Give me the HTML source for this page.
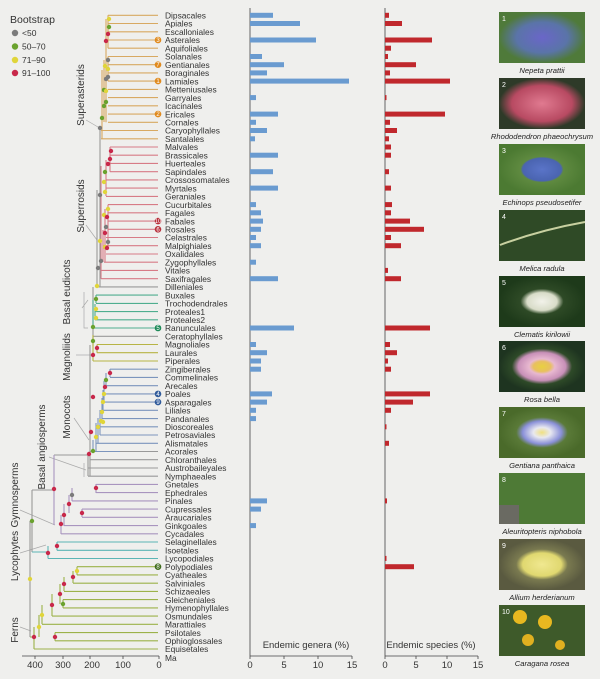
<!DOCTYPE html>
<html><head><meta charset="utf-8"><style>
body{margin:0;background:#efefed;}
svg{display:block;font-family:"Liberation Sans",sans-serif;}
.l text{font-size:8.4px;fill:#333;}
.ax text{font-size:9.5px;fill:#333;text-anchor:middle;}
.cap{font-size:7.6px;font-style:italic;fill:#222;text-anchor:middle;}
.cl{font-size:10px;fill:#333;text-anchor:middle;}
</style></head><body>
<svg width="600" height="679" viewBox="0 0 600 679" xmlns="http://www.w3.org/2000/svg">
<rect width="600" height="679" fill="#efefed"/>
<!-- legend -->
<text x="10" y="23" font-size="10.5" fill="#333">Bootstrap</text>
<circle cx="15" cy="33" r="3.2" fill="#7b7b7b"/><text x="22" y="36" font-size="8.5" fill="#333">&lt;50</text>
<circle cx="15" cy="46.5" r="3.2" fill="#6aa22e"/><text x="22" y="49.5" font-size="8.5" fill="#333">50–70</text>
<circle cx="15" cy="60" r="3.2" fill="#e0d53a"/><text x="22" y="63" font-size="8.5" fill="#333">71–90</text>
<circle cx="15" cy="73" r="3.2" fill="#c8284a"/><text x="22" y="76" font-size="8.5" fill="#333">91–100</text>

<!-- clade labels -->
<g class="cl">
<text transform="translate(84,95) rotate(-90)">Superasterids</text>
<text transform="translate(84,206) rotate(-90)">Superrosids</text>
<text transform="translate(70,292) rotate(-90)">Basal eudicots</text>
<text transform="translate(70,357) rotate(-90)">Magnoliids</text>
<text transform="translate(70,417) rotate(-90)">Monocots</text>
<text transform="translate(45,447) rotate(-90)">Basal angiosperms</text>
<text transform="translate(18,495) rotate(-90)">Gymnosperms</text>
<text transform="translate(18,556) rotate(-90)">Lycophytes</text>
<text transform="translate(18,630) rotate(-90)">Ferns</text>
</g>
<g stroke="#aaa" stroke-width="0.7" fill="none">
<path d="M86 120 L98 127"/><path d="M86 225 L97 240"/><path d="M82 308 L88 300 M84 292 L84 328 L88 328"/>
<path d="M76 355 L91 355"/><path d="M74 418 L89 440"/><path d="M49 457 L86 470 M84 463 L84 477"/>
<path d="M20 510 L55 525"/><path d="M20 553 L46 545"/><path d="M20 627 L31 631"/>
</g>

<!-- tree -->
<g fill="none" stroke-width="1.1">
<g stroke="#d8a962">
<path d="M108 15.3H158M108 23.5H158M108 31.8H158M108 40H158M108 48.2H158M108 56.5H158M108 64.7H158M108 72.9H158M108 81.1H158M108 89.4H158M108 97.6H158M108 105.8H158M108 114.1H158M108 122.3H158M101 130.5H158M101 138.8H158"/>
<path d="M108 15.3V48.2M106 19V122.3M108 56.5V81.1M104 60V122M102 70V139"/>
</g>
<g stroke="#d77b86">
<path d="M110 147H158M110 155.2H158M110 163.4H158M110 171.7H158M106 179.9H158M106 188.1H158M106 196.4H158M108 204.6H158M108 212.8H158M108 221.1H158M108 229.3H158M106 237.5H158M106 245.7H158M106 254H158M104 262.2H158M101 270.4H158M101 278.7H158"/>
<path d="M110 147V171.7M106 160V196M108 204.6V245.7M105 209V262M103 230V262M101 166V278.7"/>
</g>
<g stroke="#999"><path d="M97 286.9H158M93 336.3H158M90 451.5H158M90 459.7H158M88 468H158M88 476.2H158M100 128V287M97 190V287M93 287V346M90 345V476M88 455V476M54 455H90"/></g>
<g stroke="#4fae8f"><path d="M96 295.1H158M96 303.4H158M95 311.6H158M95 319.8H158M93 328H158M96 295V303M95 304V320M93 300V328"/></g>
<g stroke="#b7b445"><path d="M97 344.5H158M97 352.7H158M93 361H158M97 344.5V352.7M93 335V361"/></g>
<g stroke="#7c95bd"><path d="M110 369.2H158M110 377.4H158M106 385.7H158M104 393.9H158M104 402.1H158M103 410.3H158M102 418.6H158M100 426.8H158M100 435H158M96 443.3H158M93 451.5H120M110 369V377M106 373V386M104 381V402M103 390V410M102 398V419M100 410V435M98 418V443M96 423V451M93 440V452"/></g>
<g stroke="#a995bf"><path d="M96 484.4H158M96 492.6H158M72 500.9H158M82 509.1H158M82 517.3H158M64 525.6H158M61 533.8H158M96 484V493M72 488V501M69 495V513M82 509V517M64 504V526M61 515V534M54 455V525"/></g>
<g stroke="#999"><path d="M32 490H54M32 490V552M30 521H32M30 521V637"/></g>
<g stroke="#5bb5b5"><path d="M57 542H158M57 550.3H158M48 558.5H158M57 542V550.3M48 546V558.5M32 552H48"/></g>
<g stroke="#9cb24a"><path d="M77 566.7H158M77 574.9H158M73 583.2H158M64 591.4H158M63 599.6H158M63 607.9H158M52 616.1H158M42 624.3H158M55 632.6H158M55 640.8H158M34 649H158M77 566.7V574.9M73 571V583M64 577V591M63 599.6V607.9M60 584V604M52 594V616M42 605V624M55 632.6V640.8M39 615V637M34 627V649M30 637H34"/></g>
</g>
<!-- nodes -->
<g>
<circle cx="109" cy="19" r="2.2" fill="#e0d53a"/><circle cx="109" cy="27" r="2.2" fill="#6aa22e"/><circle cx="108" cy="34" r="2.2" fill="#c8284a"/><circle cx="106" cy="41" r="2.2" fill="#c8284a"/>
<circle cx="108" cy="60" r="2.2" fill="#7b7b7b"/><circle cx="105" cy="66" r="2.2" fill="#e0d53a"/><circle cx="108" cy="69" r="2.2" fill="#e0d53a"/><circle cx="106" cy="79" r="2.2" fill="#7b7b7b"/><circle cx="108" cy="77" r="2.2" fill="#7b7b7b"/>
<circle cx="104" cy="90" r="2.2" fill="#6aa22e"/><circle cx="106" cy="91" r="2.2" fill="#e0d53a"/><circle cx="106" cy="102" r="2.2" fill="#6aa22e"/><circle cx="104" cy="106" r="2.2" fill="#6aa22e"/><circle cx="102" cy="118" r="2.2" fill="#6aa22e"/><circle cx="100" cy="128" r="2.2" fill="#7b7b7b"/>
<circle cx="111" cy="151" r="2.2" fill="#c8284a"/><circle cx="110" cy="159" r="2.2" fill="#c8284a"/><circle cx="108" cy="164" r="2.2" fill="#c8284a"/><circle cx="105" cy="172" r="2.2" fill="#6aa22e"/><circle cx="104" cy="182" r="2.2" fill="#e0d53a"/><circle cx="105" cy="192" r="2.2" fill="#e0d53a"/><circle cx="100" cy="195" r="2.2" fill="#7b7b7b"/>
<circle cx="108" cy="209" r="2.2" fill="#e0d53a"/><circle cx="104" cy="215" r="2.2" fill="#e0d53a"/><circle cx="107" cy="217" r="2.2" fill="#c8284a"/><circle cx="106" cy="227" r="2.2" fill="#7b7b7b"/><circle cx="105" cy="233" r="2.2" fill="#c8284a"/><circle cx="100" cy="241" r="2.2" fill="#e0d53a"/><circle cx="108" cy="242" r="2.2" fill="#7b7b7b"/><circle cx="105" cy="247" r="2.2" fill="#e0d53a"/><circle cx="107" cy="248" r="2.2" fill="#c8284a"/><circle cx="101" cy="261" r="2.2" fill="#7b7b7b"/><circle cx="98" cy="268" r="2.2" fill="#7b7b7b"/><circle cx="97" cy="286" r="2.2" fill="#e0d53a"/>
<circle cx="96" cy="299" r="2.2" fill="#6aa22e"/><circle cx="96" cy="309" r="2.2" fill="#e0d53a"/><circle cx="96" cy="318" r="2.2" fill="#e0d53a"/><circle cx="93" cy="327" r="2.2" fill="#6aa22e"/><circle cx="93" cy="341" r="2.2" fill="#6aa22e"/>
<circle cx="97" cy="348" r="2.2" fill="#c8284a"/><circle cx="93" cy="355" r="2.2" fill="#c8284a"/><circle cx="110" cy="373" r="2.2" fill="#c8284a"/><circle cx="106" cy="380" r="2.2" fill="#6aa22e"/><circle cx="105" cy="387" r="2.2" fill="#c8284a"/><circle cx="104" cy="394" r="2.2" fill="#e0d53a"/><circle cx="103" cy="402" r="2.2" fill="#e0d53a"/><circle cx="102" cy="412" r="2.2" fill="#e0d53a"/><circle cx="101" cy="421" r="2.2" fill="#e0d53a"/><circle cx="103" cy="422" r="2.2" fill="#e0d53a"/><circle cx="98" cy="427" r="2.2" fill="#e0d53a"/><circle cx="96" cy="437" r="2.2" fill="#e0d53a"/><circle cx="93" cy="397" r="2.2" fill="#c8284a"/><circle cx="91" cy="432" r="2.2" fill="#c8284a"/><circle cx="93" cy="451" r="2.2" fill="#6aa22e"/><circle cx="89" cy="454" r="2.2" fill="#c8284a"/>
<circle cx="54" cy="489" r="2.2" fill="#c8284a"/><circle cx="96" cy="488" r="2.2" fill="#c8284a"/><circle cx="72" cy="495" r="2.2" fill="#7b7b7b"/><circle cx="69" cy="504" r="2.2" fill="#c8284a"/><circle cx="82" cy="513" r="2.2" fill="#c8284a"/><circle cx="64" cy="515" r="2.2" fill="#c8284a"/><circle cx="61" cy="524" r="2.2" fill="#c8284a"/>
<circle cx="32" cy="521" r="2.2" fill="#6aa22e"/><circle cx="57" cy="546" r="2.2" fill="#c8284a"/><circle cx="48" cy="553" r="2.2" fill="#c8284a"/>
<circle cx="30" cy="579" r="2.2" fill="#e0d53a"/><circle cx="77" cy="571" r="2.2" fill="#e0d53a"/><circle cx="73" cy="577" r="2.2" fill="#c8284a"/><circle cx="64" cy="584" r="2.2" fill="#c8284a"/><circle cx="60" cy="594" r="2.2" fill="#c8284a"/><circle cx="63" cy="604" r="2.2" fill="#6aa22e"/><circle cx="52" cy="605" r="2.2" fill="#c8284a"/><circle cx="42" cy="615" r="2.2" fill="#e0d53a"/><circle cx="39" cy="627" r="2.2" fill="#e0d53a"/><circle cx="55" cy="637" r="2.2" fill="#c8284a"/><circle cx="34" cy="637" r="2.2" fill="#c8284a"/>
</g>
<g font-size="6" fill="#fff" text-anchor="middle">
<circle cx="158" cy="40" r="3.3" fill="#e08a1e"/><text x="158" y="42">3</text>
<circle cx="158" cy="64.7" r="3.3" fill="#e08a1e"/><text x="158" y="66.7">7</text>
<circle cx="158" cy="81.1" r="3.3" fill="#e08a1e"/><text x="158" y="83.1">1</text>
<circle cx="158" cy="114.1" r="3.3" fill="#e08a1e"/><text x="158" y="116.1">2</text>
<circle cx="158" cy="221.1" r="3.3" fill="#b8313c"/><text x="158" y="223.1">10</text>
<circle cx="158" cy="229.3" r="3.3" fill="#b8313c"/><text x="158" y="231.3">6</text>
<circle cx="158" cy="328" r="3.3" fill="#1e8a58"/><text x="158" y="330">5</text>
<circle cx="158" cy="393.9" r="3.3" fill="#2f5a9a"/><text x="158" y="395.9">4</text>
<circle cx="158" cy="402.1" r="3.3" fill="#2f5a9a"/><text x="158" y="404.1">9</text>
<circle cx="158" cy="566.7" r="3.3" fill="#3c6a1a"/><text x="158" y="568.7">8</text>
</g>

<g class="l">
<text x="165" y="18.5">Dipsacales</text><text x="165" y="26.7">Apiales</text><text x="165" y="35">Escalloniales</text><text x="165" y="43.2">Asterales</text><text x="165" y="51.4">Aquifoliales</text><text x="165" y="59.7">Solanales</text><text x="165" y="67.9">Gentianales</text><text x="165" y="76.1">Boraginales</text><text x="165" y="84.3">Lamiales</text><text x="165" y="92.6">Metteniusales</text><text x="165" y="100.8">Garryales</text><text x="165" y="109">Icacinales</text><text x="165" y="117.3">Ericales</text><text x="165" y="125.5">Cornales</text><text x="165" y="133.7">Caryophyllales</text><text x="165" y="142">Santalales</text>
<text x="165" y="150.2">Malvales</text><text x="165" y="158.4">Brassicales</text><text x="165" y="166.6">Huerteales</text><text x="165" y="174.9">Sapindales</text><text x="165" y="183.1">Crossosomatales</text><text x="165" y="191.3">Myrtales</text><text x="165" y="199.6">Geraniales</text><text x="165" y="207.8">Cucurbitales</text><text x="165" y="216">Fagales</text><text x="165" y="224.3">Fabales</text><text x="165" y="232.5">Rosales</text><text x="165" y="240.7">Celastrales</text><text x="165" y="248.9">Malpighiales</text><text x="165" y="257.2">Oxalidales</text><text x="165" y="265.4">Zygophyllales</text><text x="165" y="273.6">Vitales</text><text x="165" y="281.9">Saxifragales</text><text x="165" y="290.1">Dilleniales</text>
<text x="165" y="298.3">Buxales</text><text x="165" y="306.6">Trochodendrales</text><text x="165" y="314.8">Proteales1</text><text x="165" y="323">Proteales2</text><text x="165" y="331.2">Ranunculales</text><text x="165" y="339.5">Ceratophyllales</text><text x="165" y="347.7">Magnoliales</text><text x="165" y="355.9">Laurales</text><text x="165" y="364.2">Piperales</text><text x="165" y="372.4">Zingiberales</text><text x="165" y="380.6">Commelinales</text><text x="165" y="388.9">Arecales</text><text x="165" y="397.1">Poales</text><text x="165" y="405.3">Asparagales</text><text x="165" y="413.5">Liliales</text><text x="165" y="421.8">Pandanales</text><text x="165" y="430">Dioscoreales</text><text x="165" y="438.2">Petrosaviales</text><text x="165" y="446.5">Alismatales</text><text x="165" y="454.7">Acorales</text><text x="165" y="462.9">Chloranthales</text><text x="165" y="471.2">Austrobaileyales</text><text x="165" y="479.4">Nymphaeales</text>
<text x="165" y="487.6">Gnetales</text><text x="165" y="495.8">Ephedrales</text><text x="165" y="504.1">Pinales</text><text x="165" y="512.3">Cupressales</text><text x="165" y="520.5">Araucariales</text><text x="165" y="528.8">Ginkgoales</text><text x="165" y="537">Cycadales</text><text x="165" y="545.2">Selaginellales</text><text x="165" y="553.5">Isoetales</text><text x="165" y="561.7">Lycopodiales</text><text x="165" y="569.9">Polypodiales</text><text x="165" y="578.1">Cyatheales</text><text x="165" y="586.4">Salviniales</text><text x="165" y="594.6">Schizaeales</text><text x="165" y="602.8">Gleicheniales</text><text x="165" y="611.1">Hymenophyllales</text><text x="165" y="619.3">Osmundales</text><text x="165" y="627.5">Marattiales</text><text x="165" y="635.8">Psilotales</text><text x="165" y="644">Ophioglossales</text><text x="165" y="652.2">Equisetales</text><text x="165" y="661">Ma</text>
</g>

<g stroke="#444" stroke-width="0.8" fill="none">
<path d="M22 656H159M35 656v3M63 656v3M90 656v3M123 656v3M159 656v3"/>
<path d="M250 8V656H352M250 656v3M284 656v3M318 656v3M352 656v3"/>
<path d="M385 8V656H478M385 656v3M416 656v3M447 656v3M478 656v3"/>
</g>
<g class="ax">
<text x="35" y="668">400</text><text x="63" y="668">300</text><text x="92" y="668">200</text><text x="123" y="668">100</text><text x="159" y="668">0</text>
<text x="250" y="668">0</text><text x="284" y="668">5</text><text x="318" y="668">10</text><text x="352" y="668">15</text>
<text x="385" y="668">0</text><text x="416" y="668">5</text><text x="447" y="668">10</text><text x="478" y="668">15</text>
<text x="306" y="648" font-size="8.4">Endemic genera (%)</text>
<text x="431" y="648" font-size="8.4">Endemic species (%)</text>
</g>

<g fill="#6a9bd0">
<rect x="250" y="12.8" width="23" height="5"/><rect x="250" y="21" width="50" height="5"/><rect x="250" y="37.5" width="66" height="5"/><rect x="250" y="54" width="12" height="5"/><rect x="250" y="62.2" width="34" height="5"/><rect x="250" y="70.4" width="17" height="5"/><rect x="250" y="78.6" width="99" height="5"/><rect x="250" y="95.1" width="6" height="5"/><rect x="250" y="111.6" width="28" height="5"/><rect x="250" y="119.8" width="6" height="5"/><rect x="250" y="128" width="17" height="5"/><rect x="250" y="136.3" width="5" height="5"/>
<rect x="250" y="152.7" width="28" height="5"/><rect x="250" y="169.2" width="23" height="5"/><rect x="250" y="185.6" width="28" height="5"/><rect x="250" y="202.1" width="6" height="5"/><rect x="250" y="210.3" width="11" height="5"/><rect x="250" y="218.6" width="13" height="5"/><rect x="250" y="226.8" width="11" height="5"/><rect x="250" y="235" width="6" height="5"/><rect x="250" y="243.2" width="11" height="5"/><rect x="250" y="259.7" width="6" height="5"/><rect x="250" y="276.2" width="28" height="5"/>
<rect x="250" y="325.5" width="44" height="5"/><rect x="250" y="342" width="6" height="5"/><rect x="250" y="350.2" width="17" height="5"/><rect x="250" y="358.5" width="11" height="5"/><rect x="250" y="366.7" width="11" height="5"/><rect x="250" y="391.4" width="22" height="5"/><rect x="250" y="399.6" width="17" height="5"/><rect x="250" y="407.8" width="6" height="5"/><rect x="250" y="416.1" width="6" height="5"/>
<rect x="250" y="498.4" width="17" height="5"/><rect x="250" y="506.6" width="11" height="5"/><rect x="250" y="523.1" width="6" height="5"/>
</g>
<g fill="#c0282d">
<rect x="385" y="12.8" width="4" height="5"/><rect x="385" y="21" width="17" height="5"/><rect x="385" y="37.5" width="47" height="5"/><rect x="385" y="45.7" width="6" height="5"/><rect x="385" y="54" width="3" height="5"/><rect x="385" y="62.2" width="31" height="5"/><rect x="385" y="70.4" width="5" height="5"/><rect x="385" y="78.6" width="65" height="5"/><rect x="385" y="95.1" width="1.5" height="5"/><rect x="385" y="111.6" width="60" height="5"/><rect x="385" y="119.8" width="5" height="5"/><rect x="385" y="128" width="12" height="5"/><rect x="385" y="136.3" width="4" height="5"/>
<rect x="385" y="144.5" width="6" height="5"/><rect x="385" y="152.7" width="6" height="5"/><rect x="385" y="169.2" width="4" height="5"/><rect x="385" y="185.6" width="6" height="5"/><rect x="385" y="202.1" width="7" height="5"/><rect x="385" y="210.3" width="6" height="5"/><rect x="385" y="218.6" width="25" height="5"/><rect x="385" y="226.8" width="39" height="5"/><rect x="385" y="235" width="6" height="5"/><rect x="385" y="243.2" width="16" height="5"/><rect x="385" y="267.9" width="3" height="5"/><rect x="385" y="276.2" width="16" height="5"/>
<rect x="385" y="325.5" width="45" height="5"/><rect x="385" y="342" width="5" height="5"/><rect x="385" y="350.2" width="12" height="5"/><rect x="385" y="358.5" width="3" height="5"/><rect x="385" y="366.7" width="6" height="5"/><rect x="385" y="391.4" width="45" height="5"/><rect x="385" y="399.6" width="28" height="5"/><rect x="385" y="407.8" width="6" height="5"/><rect x="385" y="424.3" width="1.5" height="5"/><rect x="385" y="440.8" width="4" height="5"/>
<rect x="385" y="498.4" width="2" height="5"/><rect x="385" y="555.9" width="1.5" height="5"/><rect x="385" y="564.2" width="29" height="5"/>
</g>

<defs>
<radialGradient id="g1"><stop offset="0" stop-color="#6a66c8"/><stop offset="0.6" stop-color="#5a74a8"/><stop offset="1" stop-color="#4f7a3a"/></radialGradient>
<radialGradient id="g2"><stop offset="0" stop-color="#e07a90"/><stop offset="0.7" stop-color="#b84a62"/><stop offset="1" stop-color="#2e3a28"/></radialGradient>
<radialGradient id="g3"><stop offset="0" stop-color="#5a74c8"/><stop offset="0.45" stop-color="#4a64b0"/><stop offset="0.5" stop-color="#5f8a40"/><stop offset="1" stop-color="#4c7a32"/></radialGradient>
<radialGradient id="g5"><stop offset="0" stop-color="#f2f2ea"/><stop offset="0.35" stop-color="#d8dcc8"/><stop offset="0.5" stop-color="#2e4a26"/><stop offset="1" stop-color="#1e3a1a"/></radialGradient>
<radialGradient id="g6"><stop offset="0" stop-color="#e8d040"/><stop offset="0.2" stop-color="#e8c060"/><stop offset="0.3" stop-color="#e8b8d0"/><stop offset="0.55" stop-color="#c890b8"/><stop offset="0.7" stop-color="#2e4a28"/><stop offset="1" stop-color="#1e3420"/></radialGradient>
<radialGradient id="g7"><stop offset="0" stop-color="#f0e080"/><stop offset="0.2" stop-color="#e8e8f0"/><stop offset="0.45" stop-color="#8a90d8"/><stop offset="0.6" stop-color="#5a7a38"/><stop offset="1" stop-color="#4a6a2a"/></radialGradient>
<radialGradient id="g9"><stop offset="0" stop-color="#f0e890"/><stop offset="0.45" stop-color="#e0d870"/><stop offset="0.6" stop-color="#7a7a50"/><stop offset="1" stop-color="#5a5a40"/></radialGradient>
</defs>
<rect x="499" y="12" width="86" height="51" fill="url(#g1)"/>
<rect x="499" y="78" width="86" height="51" fill="url(#g2)"/>
<rect x="499" y="144" width="86" height="51" fill="url(#g3)"/>
<rect x="499" y="210" width="86" height="51" fill="#2f4a26"/><path d="M500 245 Q540 230 585 222" stroke="#c8d0a0" stroke-width="2" fill="none"/>
<rect x="499" y="276" width="86" height="51" fill="url(#g5)"/>
<rect x="499" y="341" width="86" height="51" fill="url(#g6)"/>
<rect x="499" y="407" width="86" height="51" fill="url(#g7)"/>
<rect x="499" y="473" width="86" height="51" fill="#4e7a36"/><rect x="499" y="505" width="20" height="19" fill="#6a6a62"/>
<rect x="499" y="539" width="86" height="51" fill="url(#g9)"/>
<rect x="499" y="605" width="86" height="51" fill="#3e5a2a"/><circle cx="520" cy="617" r="7" fill="#e8b820"/><circle cx="545" cy="622" r="7" fill="#e8b820"/><circle cx="528" cy="640" r="6" fill="#e0b020"/><circle cx="560" cy="645" r="5" fill="#e0b020"/>
<g font-size="7" fill="#fff"><text x="502" y="21">1</text><text x="502" y="87">2</text><text x="502" y="153">3</text><text x="502" y="219">4</text><text x="502" y="285">5</text><text x="502" y="350">6</text><text x="502" y="416">7</text><text x="502" y="482">8</text><text x="502" y="548">9</text><text x="502" y="614">10</text></g>
<g class="cap">
<text x="542" y="73">Nepeta prattii</text><text x="542" y="139">Rhododendron phaeochrysum</text><text x="542" y="205">Echinops pseudosetifer</text><text x="542" y="271">Melica radula</text><text x="542" y="337">Clematis kirilowii</text><text x="542" y="402">Rosa bella</text><text x="542" y="468">Gentiana panthaica</text><text x="542" y="534">Aleuritopteris niphobola</text><text x="542" y="600">Allium herderianum</text><text x="542" y="666">Caragana rosea</text>
</g>
</svg>
</body></html>
